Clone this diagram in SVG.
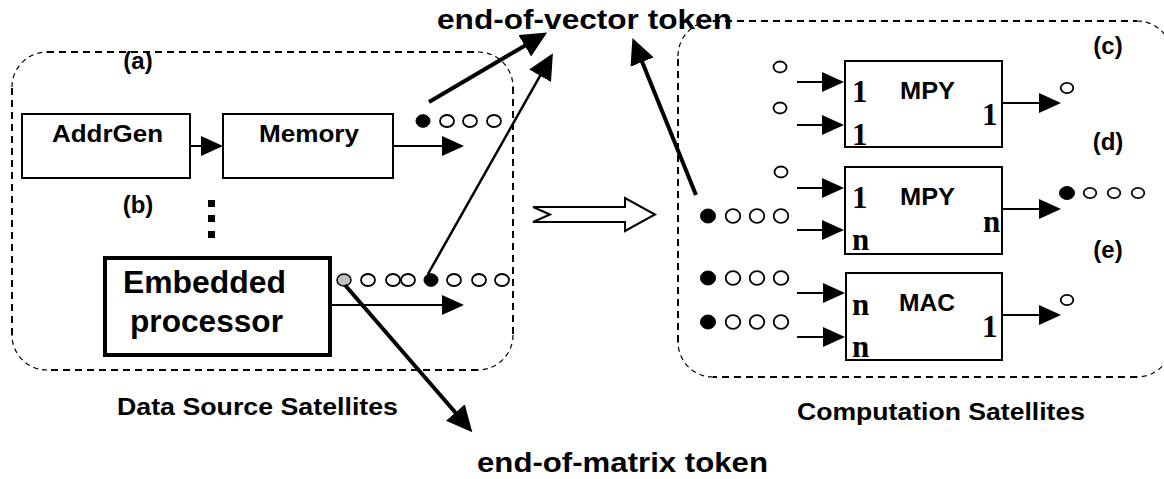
<svg xmlns="http://www.w3.org/2000/svg" width="1164" height="479" viewBox="0 0 1164 479">
  <style>
    .bg { fill: #ffffff; }
    .box { fill: #ffffff; stroke: #000; stroke-width: 2; }
    .boxThick { fill: #ffffff; stroke: #000; stroke-width: 4; }
    .dash { fill: none; stroke: #000; stroke-width: 2; stroke-dasharray: 7 5; }
    .dashc { fill: none; stroke: #000; stroke-width: 1.2; stroke-dasharray: 5 4; }
    .sans { font-family: "Liberation Sans", Arial, Helvetica, sans-serif; font-weight: bold; fill: #000; }
    .serif { font-family: "Liberation Serif", "Times New Roman", serif; font-weight: bold; fill: #000; font-size: 31px; }
    .lbl { font-size: 24px; text-anchor: middle; }
    .wire { fill: none; stroke: #000; stroke-width: 2; marker-end: url(#ah); }
    .thick { fill: none; stroke: #000; stroke-width: 4; marker-end: url(#ahL); }
    .mid { fill: none; stroke: #000; stroke-width: 2.5; marker-end: url(#ahL); }
    .tok { fill: #fff; stroke: #000; stroke-width: 1.8; }
    .tokF { fill: #000; stroke: #000; stroke-width: 1; }
    .tokG { fill: #c0c0c0; stroke: #000; stroke-width: 1.5; }
  </style>
  <defs>
    <marker id="ah" markerUnits="userSpaceOnUse" markerWidth="22" markerHeight="20" viewBox="0 0 22 20" refX="1" refY="10" orient="auto">
      <path d="M0,0 L22,10 L0,20 z" fill="#000"/>
    </marker>
    <marker id="ahL" markerUnits="userSpaceOnUse" markerWidth="26" markerHeight="25" viewBox="0 0 26 25" refX="1" refY="12.5" orient="auto">
      <path d="M0,0 L26,12.5 L0,25 z" fill="#000"/>
    </marker>
  </defs>

  <rect class="bg" x="0" y="0" width="1164" height="479"/>

  <!-- satellite groupings (dashed rounded outlines) -->
  <g id="data-source-satellites">
    <path class="dash" d="M47,52 H478 M513,87 V335 M478,370 H47 M12,335 V87"/>
    <path class="dashc" d="M12,87 A35,35 0 0 1 47,52 M478,52 A35,35 0 0 1 513,87 M513,335 A35,35 0 0 1 478,370 M47,370 A35,35 0 0 1 12,335"/>
    <text class="sans" x="117" y="415" font-size="23" textLength="281" lengthAdjust="spacingAndGlyphs">Data Source Satellites</text>
  </g>
  <g id="computation-satellites">
    <path class="dash" d="M713,21 H1137 M1172,56 V342 M1137,377 H713 M678,342 V56"/>
    <path class="dashc" d="M678,56 A35,35 0 0 1 713,21 M1137,21 A35,35 0 0 1 1172,56 M1172,342 A35,35 0 0 1 1137,377 M713,377 A35,35 0 0 1 678,342"/>
    <text class="sans" x="797" y="420" font-size="23" textLength="288" lengthAdjust="spacingAndGlyphs">Computation Satellites</text>
  </g>

  <!-- data source nodes -->
  <g id="addrgen">
    <rect class="box" x="22" y="114" width="168" height="64"/>
    <text class="sans" x="52" y="142" font-size="24" textLength="111" lengthAdjust="spacingAndGlyphs">AddrGen</text>
  </g>
  <g id="memory">
    <rect class="box" x="223" y="114" width="170" height="64"/>
    <text class="sans" x="259" y="142" font-size="24" textLength="100" lengthAdjust="spacingAndGlyphs">Memory</text>
  </g>
  <g id="embedded-processor">
    <rect class="boxThick" x="105" y="258" width="225" height="97"/>
    <text class="sans" x="123" y="293" font-size="31" textLength="163" lengthAdjust="spacingAndGlyphs">Embedded</text>
    <text class="sans" x="130" y="332" font-size="31" textLength="153" lengthAdjust="spacingAndGlyphs">processor</text>
  </g>
  <g id="more-sources">
    <rect x="208" y="200" width="7" height="7" fill="#000"/>
    <rect x="208" y="215" width="7" height="7" fill="#000"/>
    <rect x="208" y="231" width="7" height="7" fill="#000"/>
  </g>

  <!-- computation nodes -->
  <g id="mpy-c">
    <rect class="box" x="845" y="61" width="157" height="86"/>
    <text class="sans" x="900" y="99" font-size="24" textLength="55" lengthAdjust="spacingAndGlyphs">MPY</text>
    <text class="serif" x="852" y="102">1</text>
    <text class="serif" x="852" y="145">1</text>
    <text class="serif" x="982" y="125">1</text>
  </g>
  <g id="mpy-d">
    <rect class="box" x="845" y="167" width="157" height="87"/>
    <text class="sans" x="900" y="205" font-size="24" textLength="55" lengthAdjust="spacingAndGlyphs">MPY</text>
    <text class="serif" x="852" y="208">1</text>
    <text class="serif" x="852" y="250">n</text>
    <text class="serif" x="983" y="232">n</text>
  </g>
  <g id="mac-e">
    <rect class="box" x="846" y="273" width="156" height="87"/>
    <text class="sans" x="899" y="311" font-size="24" textLength="56" lengthAdjust="spacingAndGlyphs">MAC</text>
    <text class="serif" x="852" y="315">n</text>
    <text class="serif" x="852" y="357">n</text>
    <text class="serif" x="982" y="337">1</text>
  </g>

  <!-- case labels -->
  <g id="labels">
    <text class="sans lbl" x="138" y="69">(a)</text>
    <text class="sans lbl" x="138" y="213">(b)</text>
    <text class="sans lbl" x="1108" y="54">(c)</text>
    <text class="sans lbl" x="1108" y="150">(d)</text>
    <text class="sans lbl" x="1108" y="258">(e)</text>
    <text class="sans" x="437" y="29" font-size="27" textLength="295" lengthAdjust="spacingAndGlyphs">end-of-vector token</text>
    <text class="sans" x="477" y="472" font-size="27" textLength="291" lengthAdjust="spacingAndGlyphs">end-of-matrix token</text>
  </g>

  <!-- token streams -->
  <g id="tokens">
    <!-- memory output stream -->
    <ellipse class="tokF" cx="423" cy="121" rx="7" ry="6.3"/>
    <ellipse class="tok" cx="447" cy="121" rx="7" ry="6"/>
    <ellipse class="tok" cx="470" cy="121" rx="7" ry="6"/>
    <ellipse class="tok" cx="494" cy="121" rx="7" ry="6"/>
    <!-- embedded processor output stream -->
    <ellipse class="tokG" cx="344" cy="280" rx="7" ry="6"/>
    <ellipse class="tok" cx="368" cy="280" rx="7" ry="6"/>
    <ellipse class="tok" cx="393" cy="280" rx="7" ry="6"/>
    <ellipse class="tok" cx="408" cy="280" rx="7" ry="6"/>
    <ellipse class="tokF" cx="431" cy="280" rx="7" ry="6.3"/>
    <ellipse class="tok" cx="454" cy="280" rx="7" ry="6"/>
    <ellipse class="tok" cx="479" cy="280" rx="7" ry="6"/>
    <ellipse class="tok" cx="502" cy="280" rx="7" ry="6"/>
    <!-- inputs of (c) -->
    <ellipse class="tok" cx="780" cy="67" rx="6.5" ry="5.5"/>
    <ellipse class="tok" cx="780" cy="108" rx="6.5" ry="5.5"/>
    <!-- inputs of (d) -->
    <ellipse class="tok" cx="781" cy="172" rx="6.5" ry="5.5"/>
    <ellipse class="tokF" cx="708" cy="216" rx="7.5" ry="7"/>
    <ellipse class="tok" cx="733" cy="216" rx="7.3" ry="6.8"/>
    <ellipse class="tok" cx="757" cy="216" rx="7.3" ry="6.8"/>
    <ellipse class="tok" cx="781" cy="216" rx="7.3" ry="6.8"/>
    <!-- inputs of (e) -->
    <ellipse class="tokF" cx="708" cy="278" rx="7.5" ry="7"/>
    <ellipse class="tok" cx="733" cy="278" rx="7.3" ry="6.8"/>
    <ellipse class="tok" cx="757" cy="278" rx="7.3" ry="6.8"/>
    <ellipse class="tok" cx="781" cy="278" rx="7.3" ry="6.8"/>
    <ellipse class="tokF" cx="708" cy="322" rx="7.5" ry="7"/>
    <ellipse class="tok" cx="733" cy="322" rx="7.3" ry="6.8"/>
    <ellipse class="tok" cx="757" cy="322" rx="7.3" ry="6.8"/>
    <ellipse class="tok" cx="781" cy="322" rx="7.3" ry="6.8"/>
    <!-- outputs -->
    <ellipse class="tok" cx="1067" cy="88" rx="6.3" ry="5.2"/>
    <ellipse class="tokF" cx="1067" cy="193" rx="7.5" ry="6.5"/>
    <ellipse class="tok" cx="1090" cy="193" rx="6.3" ry="5.2"/>
    <ellipse class="tok" cx="1114" cy="193" rx="6.3" ry="5.2"/>
    <ellipse class="tok" cx="1138" cy="193" rx="6.3" ry="5.2"/>
    <ellipse class="tok" cx="1067" cy="300" rx="6.3" ry="5.2"/>
  </g>

  <!-- connectors -->
  <g id="connectors">
    <line class="wire" x1="190" y1="146" x2="202" y2="146"/>
    <line class="wire" x1="393" y1="146" x2="443" y2="146"/>
    <line class="wire" x1="330" y1="305" x2="443" y2="305"/>

    <line class="wire" x1="797" y1="82" x2="823" y2="82"/>
    <line class="wire" x1="797" y1="125" x2="823" y2="125"/>
    <line class="wire" x1="797" y1="188" x2="823" y2="188"/>
    <line class="wire" x1="797" y1="230" x2="823" y2="230"/>
    <line class="wire" x1="797" y1="293" x2="824" y2="293"/>
    <line class="wire" x1="797" y1="337" x2="824" y2="337"/>

    <line class="wire" x1="1002" y1="103" x2="1040" y2="103"/>
    <line class="wire" x1="1002" y1="209" x2="1040" y2="209"/>
    <line class="wire" x1="1002" y1="315" x2="1040" y2="315"/>

    <!-- token pointers -->
    <line class="thick" x1="429" y1="102" x2="525.6" y2="45.2"/>
    <line class="mid" x1="428" y1="274" x2="540.6" y2="74.9"/>
    <line class="thick" x1="696" y1="195" x2="641.8" y2="61.1"/>
    <line class="thick" x1="345" y1="285" x2="456" y2="413.3"/>

    <!-- transformation arrow -->
    <polygon points="533,207 625,207 625,198 655,214.5 625,231 625,222 533,222 550,214.5" fill="#fff" stroke="#000" stroke-width="2" stroke-linejoin="miter"/>
  </g>
</svg>
